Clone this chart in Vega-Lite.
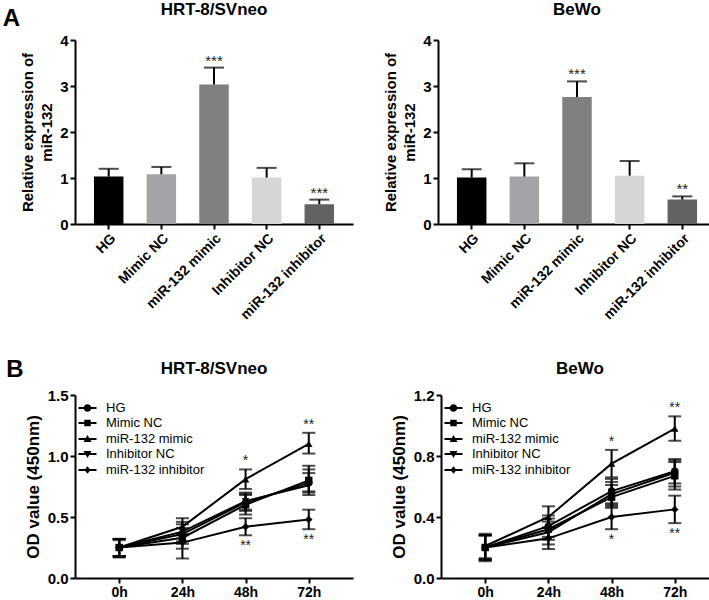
{
  "$schema": "https://vega.github.io/schema/vega-lite/v6.json",
  "background": "white",
  "padding": {"left": 2, "top": 1, "right": 2, "bottom": 0},
  "config": {
    "font": "Liberation Sans",
    "view": {"stroke": null},
    "axis": {"domainColor": "black", "domainWidth": 2, "tickColor": "black", "tickWidth": 2, "tickSize": 5, "labelColor": "black", "labelFont": "Liberation Sans", "labelFontWeight": "bold", "labelFontSize": 15, "titleFont": "Liberation Sans", "titleFontSize": 15, "titleFontWeight": "bold", "titleColor": "black", "grid": false, "labelPadding": 2},
    "title": {"font": "Liberation Sans", "fontSize": 17, "fontWeight": "bold", "color": "black", "offset": 14},
    "legend": {"labelFont": "Liberation Sans", "labelFontSize": 13, "labelColor": "black", "padding": 0, "rowPadding": 1}
  },
  "datasets": {
    "bars": [
      {"cell": "HRT-8/SVneo", "group": "HG", "value": 1.03, "hi": 1.2, "sig": ""},
      {"cell": "HRT-8/SVneo", "group": "Mimic NC", "value": 1.08, "hi": 1.24, "sig": ""},
      {"cell": "HRT-8/SVneo", "group": "miR-132 mimic", "value": 3.03, "hi": 3.4, "sig": "***"},
      {"cell": "HRT-8/SVneo", "group": "Inhibitor NC", "value": 1.01, "hi": 1.22, "sig": ""},
      {"cell": "HRT-8/SVneo", "group": "miR-132 inhibitor", "value": 0.43, "hi": 0.53, "sig": "***"},
      {"cell": "BeWo", "group": "HG", "value": 1.01, "hi": 1.19, "sig": ""},
      {"cell": "BeWo", "group": "Mimic NC", "value": 1.03, "hi": 1.32, "sig": ""},
      {"cell": "BeWo", "group": "miR-132 mimic", "value": 2.76, "hi": 3.1, "sig": "***"},
      {"cell": "BeWo", "group": "Inhibitor NC", "value": 1.05, "hi": 1.37, "sig": ""},
      {"cell": "BeWo", "group": "miR-132 inhibitor", "value": 0.53, "hi": 0.6, "sig": "**"}
    ],
    "lines": [
      {"cell": "HRT-8/SVneo", "group": "HG", "time": "0h", "mean": 0.25, "lo": 0.18, "hi": 0.32, "up": "", "down": ""},
      {"cell": "HRT-8/SVneo", "group": "HG", "time": "24h", "mean": 0.36, "lo": 0.28, "hi": 0.44, "up": "", "down": ""},
      {"cell": "HRT-8/SVneo", "group": "HG", "time": "48h", "mean": 0.62, "lo": 0.55, "hi": 0.69, "up": "", "down": ""},
      {"cell": "HRT-8/SVneo", "group": "HG", "time": "72h", "mean": 0.78, "lo": 0.7, "hi": 0.86, "up": "", "down": ""},
      {"cell": "HRT-8/SVneo", "group": "Mimic NC", "time": "0h", "mean": 0.25, "lo": 0.17, "hi": 0.32, "up": "", "down": ""},
      {"cell": "HRT-8/SVneo", "group": "Mimic NC", "time": "24h", "mean": 0.33, "lo": 0.24, "hi": 0.41, "up": "", "down": ""},
      {"cell": "HRT-8/SVneo", "group": "Mimic NC", "time": "48h", "mean": 0.6, "lo": 0.52, "hi": 0.68, "up": "", "down": ""},
      {"cell": "HRT-8/SVneo", "group": "Mimic NC", "time": "72h", "mean": 0.8, "lo": 0.71, "hi": 0.89, "up": "", "down": ""},
      {"cell": "HRT-8/SVneo", "group": "miR-132 mimic", "time": "0h", "mean": 0.25, "lo": 0.18, "hi": 0.32, "up": "", "down": ""},
      {"cell": "HRT-8/SVneo", "group": "miR-132 mimic", "time": "24h", "mean": 0.42, "lo": 0.35, "hi": 0.49, "up": "", "down": ""},
      {"cell": "HRT-8/SVneo", "group": "miR-132 mimic", "time": "48h", "mean": 0.81, "lo": 0.73, "hi": 0.89, "up": "*", "down": ""},
      {"cell": "HRT-8/SVneo", "group": "miR-132 mimic", "time": "72h", "mean": 1.1, "lo": 1.02, "hi": 1.19, "up": "**", "down": ""},
      {"cell": "HRT-8/SVneo", "group": "Inhibitor NC", "time": "0h", "mean": 0.25, "lo": 0.18, "hi": 0.31, "up": "", "down": ""},
      {"cell": "HRT-8/SVneo", "group": "Inhibitor NC", "time": "24h", "mean": 0.38, "lo": 0.3, "hi": 0.46, "up": "", "down": ""},
      {"cell": "HRT-8/SVneo", "group": "Inhibitor NC", "time": "48h", "mean": 0.63, "lo": 0.56, "hi": 0.7, "up": "", "down": ""},
      {"cell": "HRT-8/SVneo", "group": "Inhibitor NC", "time": "72h", "mean": 0.76, "lo": 0.68, "hi": 0.92, "up": "", "down": ""},
      {"cell": "HRT-8/SVneo", "group": "miR-132 inhibitor", "time": "0h", "mean": 0.25, "lo": 0.17, "hi": 0.32, "up": "", "down": ""},
      {"cell": "HRT-8/SVneo", "group": "miR-132 inhibitor", "time": "24h", "mean": 0.29, "lo": 0.16, "hi": 0.36, "up": "", "down": ""},
      {"cell": "HRT-8/SVneo", "group": "miR-132 inhibitor", "time": "48h", "mean": 0.42, "lo": 0.35, "hi": 0.49, "up": "", "down": "**"},
      {"cell": "HRT-8/SVneo", "group": "miR-132 inhibitor", "time": "72h", "mean": 0.48, "lo": 0.4, "hi": 0.56, "up": "", "down": "**"},
      {"cell": "BeWo", "group": "HG", "time": "0h", "mean": 0.2, "lo": 0.12, "hi": 0.28, "up": "", "down": ""},
      {"cell": "BeWo", "group": "HG", "time": "24h", "mean": 0.34, "lo": 0.27, "hi": 0.41, "up": "", "down": ""},
      {"cell": "BeWo", "group": "HG", "time": "48h", "mean": 0.57, "lo": 0.49, "hi": 0.65, "up": "", "down": ""},
      {"cell": "BeWo", "group": "HG", "time": "72h", "mean": 0.7, "lo": 0.62, "hi": 0.77, "up": "", "down": ""},
      {"cell": "BeWo", "group": "Mimic NC", "time": "0h", "mean": 0.2, "lo": 0.11, "hi": 0.29, "up": "", "down": ""},
      {"cell": "BeWo", "group": "Mimic NC", "time": "24h", "mean": 0.32, "lo": 0.25, "hi": 0.39, "up": "", "down": ""},
      {"cell": "BeWo", "group": "Mimic NC", "time": "48h", "mean": 0.53, "lo": 0.46, "hi": 0.61, "up": "", "down": ""},
      {"cell": "BeWo", "group": "Mimic NC", "time": "72h", "mean": 0.67, "lo": 0.58, "hi": 0.76, "up": "", "down": ""},
      {"cell": "BeWo", "group": "miR-132 mimic", "time": "0h", "mean": 0.21, "lo": 0.13, "hi": 0.28, "up": "", "down": ""},
      {"cell": "BeWo", "group": "miR-132 mimic", "time": "24h", "mean": 0.4, "lo": 0.33, "hi": 0.47, "up": "", "down": ""},
      {"cell": "BeWo", "group": "miR-132 mimic", "time": "48h", "mean": 0.75, "lo": 0.66, "hi": 0.84, "up": "*", "down": ""},
      {"cell": "BeWo", "group": "miR-132 mimic", "time": "72h", "mean": 0.98, "lo": 0.9, "hi": 1.06, "up": "**", "down": ""},
      {"cell": "BeWo", "group": "Inhibitor NC", "time": "0h", "mean": 0.2, "lo": 0.12, "hi": 0.28, "up": "", "down": ""},
      {"cell": "BeWo", "group": "Inhibitor NC", "time": "24h", "mean": 0.3, "lo": 0.22, "hi": 0.37, "up": "", "down": ""},
      {"cell": "BeWo", "group": "Inhibitor NC", "time": "48h", "mean": 0.55, "lo": 0.47, "hi": 0.63, "up": "", "down": ""},
      {"cell": "BeWo", "group": "Inhibitor NC", "time": "72h", "mean": 0.69, "lo": 0.6, "hi": 0.78, "up": "", "down": ""},
      {"cell": "BeWo", "group": "miR-132 inhibitor", "time": "0h", "mean": 0.2, "lo": 0.12, "hi": 0.28, "up": "", "down": ""},
      {"cell": "BeWo", "group": "miR-132 inhibitor", "time": "24h", "mean": 0.26, "lo": 0.19, "hi": 0.33, "up": "", "down": ""},
      {"cell": "BeWo", "group": "miR-132 inhibitor", "time": "48h", "mean": 0.4, "lo": 0.32, "hi": 0.48, "up": "", "down": "*"},
      {"cell": "BeWo", "group": "miR-132 inhibitor", "time": "72h", "mean": 0.45, "lo": 0.36, "hi": 0.54, "up": "", "down": "**"}
    ]
  },
  "vconcat": [
    {
      "title": {"text": "A", "anchor": "start", "fontSize": 24, "offset": -30, "dx": -18},
      "spacing": 30,
      "hconcat": [
        {
          "width": 278, "height": 184,
          "title": {"text": "HRT-8/SVneo"},
          "data": {"name": "bars"},
          "transform": [{"filter": "datum.cell === 'HRT-8/SVneo'"}],
          "encoding": {
            "x": {"field": "group", "type": "nominal", "sort": ["HG", "Mimic NC", "miR-132 mimic", "Inhibitor NC", "miR-132 inhibitor"], "scale": {"paddingInner": 0.44, "paddingOuter": 0.36}, "axis": {"title": null, "labelAngle": -45, "labelFontSize": 14}}
          },
          "layer": [
            {"mark": {"type": "bar"}, "encoding": {"y": {"field": "value", "type": "quantitative", "scale": {"domain": [0, 4], "nice": false}, "axis": {"values": [0, 1, 2, 3, 4], "format": "d", "title": ["Relative expression of", "miR-132"], "titlePadding": 5, "titleLineHeight": 19}}, "color": {"field": "group", "type": "nominal", "scale": {"domain": ["HG", "Mimic NC", "miR-132 mimic", "Inhibitor NC", "miR-132 inhibitor"], "range": ["#000000", "#a4a4a8", "#808080", "#d6d6d6", "#626262"]}, "legend": null}}},
            {"mark": {"type": "rule", "color": "black", "strokeWidth": 2}, "encoding": {"y": {"field": "value", "type": "quantitative"}, "y2": {"field": "hi"}}},
            {"mark": {"type": "tick", "color": "black", "thickness": 2, "size": 20}, "encoding": {"y": {"field": "hi", "type": "quantitative"}}},
            {"mark": {"type": "text", "dy": -7, "fontSize": 15, "color": "#222"}, "encoding": {"y": {"field": "hi", "type": "quantitative"}, "text": {"field": "sig"}}}
          ]
        },
        {
          "width": 278, "height": 184,
          "title": {"text": "BeWo"},
          "data": {"name": "bars"},
          "transform": [{"filter": "datum.cell === 'BeWo'"}],
          "encoding": {
            "x": {"field": "group", "type": "nominal", "sort": ["HG", "Mimic NC", "miR-132 mimic", "Inhibitor NC", "miR-132 inhibitor"], "scale": {"paddingInner": 0.44, "paddingOuter": 0.36}, "axis": {"title": null, "labelAngle": -45, "labelFontSize": 14}}
          },
          "layer": [
            {"mark": {"type": "bar"}, "encoding": {"y": {"field": "value", "type": "quantitative", "scale": {"domain": [0, 4], "nice": false}, "axis": {"values": [0, 1, 2, 3, 4], "format": "d", "title": ["Relative expression of", "miR-132"], "titlePadding": 5, "titleLineHeight": 19}}, "color": {"field": "group", "type": "nominal", "scale": {"domain": ["HG", "Mimic NC", "miR-132 mimic", "Inhibitor NC", "miR-132 inhibitor"], "range": ["#000000", "#a4a4a8", "#808080", "#d6d6d6", "#626262"]}, "legend": null}}},
            {"mark": {"type": "rule", "color": "black", "strokeWidth": 2}, "encoding": {"y": {"field": "value", "type": "quantitative"}, "y2": {"field": "hi"}}},
            {"mark": {"type": "tick", "color": "black", "thickness": 2, "size": 20}, "encoding": {"y": {"field": "hi", "type": "quantitative"}}},
            {"mark": {"type": "text", "dy": -7, "fontSize": 15, "color": "#222"}, "encoding": {"y": {"field": "hi", "type": "quantitative"}, "text": {"field": "sig"}}}
          ]
        }
      ]
    },
    {
      "title": {"text": "B", "anchor": "start", "fontSize": 24, "offset": -22, "dx": -18},
      "spacing": 37,
      "hconcat": [
        {
          "width": 278, "height": 183,
          "title": {"text": "HRT-8/SVneo", "offset": 10},
          "data": {"name": "lines"},
          "transform": [{"filter": "datum.cell === 'HRT-8/SVneo'"}],
          "encoding": {"x": {"field": "time", "type": "ordinal", "sort": ["0h", "24h", "48h", "72h"], "scale": {"type": "point", "padding": 0.7}, "axis": {"title": null, "labelAngle": 0, "labelFontSize": 14}}},
          "layer": [
            {"mark": {"type": "line", "color": "black", "strokeWidth": 2}, "encoding": {"y": {"field": "mean", "type": "quantitative", "scale": {"domain": [0, 1.5], "nice": false}, "axis": {"values": [0, 0.5, 1, 1.5], "format": ".1f", "title": "OD value (450nm)", "titleFontSize": 17, "titlePadding": 5}}, "detail": {"field": "group"}}},
            {"mark": {"type": "rule", "color": "black", "strokeWidth": 2}, "encoding": {"y": {"field": "lo", "type": "quantitative"}, "y2": {"field": "hi"}}},
            {"mark": {"type": "tick", "color": "black", "thickness": 2, "size": 13}, "encoding": {"y": {"field": "lo", "type": "quantitative"}}},
            {"mark": {"type": "tick", "color": "black", "thickness": 2, "size": 13}, "encoding": {"y": {"field": "hi", "type": "quantitative"}}},
            {"mark": {"type": "point", "filled": true, "color": "black", "size": 55, "opacity": 1}, "encoding": {"y": {"field": "mean", "type": "quantitative"}, "shape": {"field": "group", "type": "nominal", "scale": {"domain": ["HG", "Mimic NC", "miR-132 mimic", "Inhibitor NC", "miR-132 inhibitor"], "range": ["circle", "square", "triangle-up", "triangle-down", "diamond"]}, "legend": null}}},
            {"mark": {"type": "point", "filled": true, "color": "black", "opacity": 0}, "encoding": {"y": {"field": "mean", "type": "quantitative"}, "shape": {"field": "group", "type": "nominal", "scale": {"domain": ["HG", "Mimic NC", "miR-132 mimic", "Inhibitor NC", "miR-132 inhibitor"], "range": ["M-1.8,-0.2H1.8V0.2H-1.8Z M0.75,0A0.75,0.75 0 1,1 -0.75,0A0.75,0.75 0 1,1 0.75,0Z", "M-1.8,-0.2H1.8V0.2H-1.8Z M-0.65,-0.65H0.65V0.65H-0.65Z", "M-1.8,-0.2H1.8V0.2H-1.8Z M0,-0.8L0.8,0.6H-0.8Z", "M-1.8,-0.2H1.8V0.2H-1.8Z M-0.8,-0.6H0.8L0,0.8Z", "M-1.8,-0.2H1.8V0.2H-1.8Z M0,-0.75L0.6,0L0,0.75L-0.6,0Z"]}, "legend": {"title": null, "orient": "none", "legendX": 6, "legendY": 6.5, "labelOffset": 12, "symbolSize": 100}}}},
            {"mark": {"type": "text", "dy": -8, "fontSize": 14, "color": "#222"}, "encoding": {"y": {"field": "hi", "type": "quantitative"}, "text": {"field": "up"}}},
            {"mark": {"type": "text", "dy": 11, "fontSize": 14, "color": "#222"}, "encoding": {"y": {"field": "lo", "type": "quantitative"}, "text": {"field": "down"}}}
          ],
          "resolve": {"scale": {"shape": "independent"}}
        },
        {
          "width": 278, "height": 183,
          "title": {"text": "BeWo", "offset": 10},
          "data": {"name": "lines"},
          "transform": [{"filter": "datum.cell === 'BeWo'"}],
          "encoding": {"x": {"field": "time", "type": "ordinal", "sort": ["0h", "24h", "48h", "72h"], "scale": {"type": "point", "padding": 0.7}, "axis": {"title": null, "labelAngle": 0, "labelFontSize": 14}}},
          "layer": [
            {"mark": {"type": "line", "color": "black", "strokeWidth": 2}, "encoding": {"y": {"field": "mean", "type": "quantitative", "scale": {"domain": [0, 1.2], "nice": false}, "axis": {"values": [0, 0.4, 0.8, 1.2], "format": ".1f", "title": "OD value (450nm)", "titleFontSize": 17, "titlePadding": 5}}, "detail": {"field": "group"}}},
            {"mark": {"type": "rule", "color": "black", "strokeWidth": 2}, "encoding": {"y": {"field": "lo", "type": "quantitative"}, "y2": {"field": "hi"}}},
            {"mark": {"type": "tick", "color": "black", "thickness": 2, "size": 13}, "encoding": {"y": {"field": "lo", "type": "quantitative"}}},
            {"mark": {"type": "tick", "color": "black", "thickness": 2, "size": 13}, "encoding": {"y": {"field": "hi", "type": "quantitative"}}},
            {"mark": {"type": "point", "filled": true, "color": "black", "size": 55, "opacity": 1}, "encoding": {"y": {"field": "mean", "type": "quantitative"}, "shape": {"field": "group", "type": "nominal", "scale": {"domain": ["HG", "Mimic NC", "miR-132 mimic", "Inhibitor NC", "miR-132 inhibitor"], "range": ["circle", "square", "triangle-up", "triangle-down", "diamond"]}, "legend": null}}},
            {"mark": {"type": "point", "filled": true, "color": "black", "opacity": 0}, "encoding": {"y": {"field": "mean", "type": "quantitative"}, "shape": {"field": "group", "type": "nominal", "scale": {"domain": ["HG", "Mimic NC", "miR-132 mimic", "Inhibitor NC", "miR-132 inhibitor"], "range": ["M-1.8,-0.2H1.8V0.2H-1.8Z M0.75,0A0.75,0.75 0 1,1 -0.75,0A0.75,0.75 0 1,1 0.75,0Z", "M-1.8,-0.2H1.8V0.2H-1.8Z M-0.65,-0.65H0.65V0.65H-0.65Z", "M-1.8,-0.2H1.8V0.2H-1.8Z M0,-0.8L0.8,0.6H-0.8Z", "M-1.8,-0.2H1.8V0.2H-1.8Z M-0.8,-0.6H0.8L0,0.8Z", "M-1.8,-0.2H1.8V0.2H-1.8Z M0,-0.75L0.6,0L0,0.75L-0.6,0Z"]}, "legend": {"title": null, "orient": "none", "legendX": 6, "legendY": 6.5, "labelOffset": 12, "symbolSize": 100}}}},
            {"mark": {"type": "text", "dy": -8, "fontSize": 14, "color": "#222"}, "encoding": {"y": {"field": "hi", "type": "quantitative"}, "text": {"field": "up"}}},
            {"mark": {"type": "text", "dy": 11, "fontSize": 14, "color": "#222"}, "encoding": {"y": {"field": "lo", "type": "quantitative"}, "text": {"field": "down"}}}
          ],
          "resolve": {"scale": {"shape": "independent"}}
        }
      ]
    }
  ],
  "spacing": 36
}
